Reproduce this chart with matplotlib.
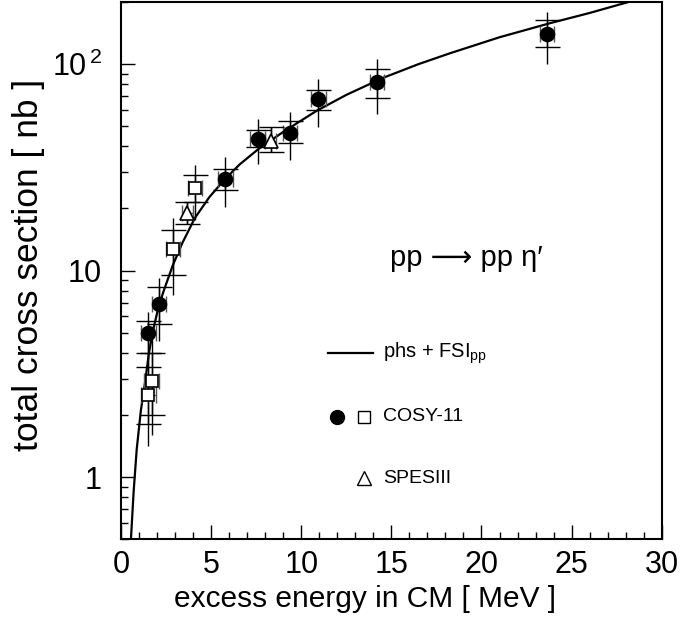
import numpy as np
import matplotlib
matplotlib.use("Agg")
import matplotlib.pyplot as plt
from matplotlib.ticker import FixedLocator, LogLocator, NullFormatter, MultipleLocator

plt.rcParams['font.family'] = ['Liberation Sans', 'DejaVu Sans']
plt.rcParams['mathtext.fontset'] = 'custom'
plt.rcParams['mathtext.rm'] = 'Liberation Sans'
plt.rcParams['mathtext.it'] = 'Liberation Sans:italic'
plt.rcParams['mathtext.default'] = 'regular'

# COSY-11, filled circles
cosy_c_q = [1.52, 2.11, 5.79, 7.58, 9.38, 10.95, 14.19, 23.62]
cosy_c_sig = [5.0, 6.9, 27.9, 43.6, 46.5, 67.5, 82.1, 140]
cosy_c_stat_lo = [3.99, 5.53, 24.5, 39.7, 41.3, 59.7, 68.8, 121]
cosy_c_stat_hi = [5.71, 8.3, 31.2, 47.8, 53.1, 75.2, 95, 163]
cosy_c_tot_lo = [3.39, 4.54, 20.4, 33, 34.3, 49.6, 57.6, 100]
cosy_c_tot_hi = [6.34, 9.2, 35.5, 54.5, 58.6, 85, 106, 178]

# COSY-11, open squares
cosy_s_q = [1.52, 1.70, 2.87, 4.11]
cosy_s_sig = [2.51, 2.91, 12.7, 25.2]
cosy_s_stat_lo = [1.8, 2.0, 9.53, 21.5]
cosy_s_stat_hi = [3.4, 4.0, 15.8, 29]
cosy_s_tot_lo = [1.41, 1.6, 7.63, 17.6]
cosy_s_tot_hi = [4.0, 5.0, 17.9, 32.4]

cosy_qerr = 0.4

# SPESIII, open triangles
spes_q = [3.68, 8.31]
spes_sig = [19.1, 42.5]
spes_lo = [16.9, 37.6]
spes_hi = [21.5, 49.6]
spes_qerr = 0.3

# phase space + pp FSI curve
curve_q = [0.55, 0.7, 0.87, 1.1, 1.33, 1.55, 1.79, 2.05, 2.35, 2.87, 3.4, 4.1,
           4.9, 5.79, 6.6, 7.59, 9.0, 10.86, 12.5, 14.56, 16.5, 18.26, 21.0,
           23.81, 26.0, 28.15, 29.0]
curve_sig = [0.5, 0.85, 1.36, 2.1, 2.86, 4.0, 5.2, 6.5, 7.9, 10.6, 13.6, 18.0,
             22.7, 27.9, 32.8, 38.6, 47, 59.5, 71, 86, 100, 113, 135,
             158, 177, 200, 208]


def draw_points(ax, q, sig, slo, shi, tlo, thi, qerr, marker, ms, face):
    q = np.array(q)
    sig = np.array(sig)
    tot = [sig - np.array(tlo), np.array(thi) - sig]
    stat = [sig - np.array(slo), np.array(shi) - sig]
    # total error: plain vertical line
    ax.errorbar(q, sig, yerr=tot, fmt='none', ecolor='black', elinewidth=1.0,
                capsize=0, zorder=3)
    # statistical error: cross bars
    ax.errorbar(q, sig, yerr=stat, fmt='none', ecolor='black', elinewidth=1.0,
                capsize=9, capthick=1.0, zorder=3)
    # energy error
    ax.errorbar(q, sig, xerr=qerr, fmt='none', ecolor='#555555', elinewidth=1.0,
                capsize=6, capthick=1.0, zorder=3)
    ax.plot(q, sig, linestyle='none', marker=marker, ms=ms, mfc=face,
            mec='black', mew=1.2, zorder=4)


fig = plt.figure(figsize=(6.81, 6.29), dpi=100)
ax = fig.add_axes([0.1777, 0.1426, 0.9717 - 0.1777, 0.9968 - 0.1426])

ax.plot(curve_q, curve_sig, color='black', lw=1.6, zorder=2)

draw_points(ax, cosy_c_q, cosy_c_sig, cosy_c_stat_lo, cosy_c_stat_hi,
            cosy_c_tot_lo, cosy_c_tot_hi, cosy_qerr, 'o', 10, 'black')
draw_points(ax, cosy_s_q, cosy_s_sig, cosy_s_stat_lo, cosy_s_stat_hi,
            cosy_s_tot_lo, cosy_s_tot_hi, cosy_qerr, 's', 8.5, 'white')
draw_points(ax, spes_q, spes_sig, spes_lo, spes_hi, spes_lo, spes_hi,
            spes_qerr, '^', 10, 'white')

ax.set_yscale('log')
ax.set_xlim(0, 30)
ax.set_ylim(0.5, 200)

ax.xaxis.set_major_locator(MultipleLocator(5))
ax.xaxis.set_minor_locator(MultipleLocator(1))
ax.yaxis.set_major_locator(FixedLocator([1, 10, 100]))
ax.yaxis.set_minor_locator(LogLocator(base=10, subs=np.arange(2, 10)))
ax.yaxis.set_minor_formatter(NullFormatter())
ax.set_yticklabels(['1', '10', r'10$^{\,2}$'])

ax.tick_params(axis='both', which='both', direction='in', top=False, right=False,
               labelsize=22)
ax.tick_params(axis='both', which='major', length=10, width=1.0)
ax.tick_params(axis='both', which='minor', length=5, width=1.0)
ax.tick_params(axis='x', which='major', pad=8)
ax.tick_params(axis='y', which='major', pad=14)

for sp in ax.spines.values():
    sp.set_linewidth(1.5)

ax.set_xlabel('excess energy in CM [ MeV ]', fontsize=21.5, labelpad=3)
ax.xaxis.label.set_x(0.452)
ax.set_ylabel('total cross section [ nb ]', fontsize=25.5, labelpad=5)
ax.yaxis.label.set_y(0.51)

# reaction label
ax.text(0.4975, 0.5235, 'pp \u27f6 pp \u03b7\u2032', transform=ax.transAxes,
        fontsize=21, ha='left', va='center')

# legend drawn by hand
ax.plot([0.3834, 0.4666], [0.3462, 0.3462], color='black', lw=1.6,
        transform=ax.transAxes)
ax.text(0.484, 0.3462, 'phs + FSI$_{pp}$', transform=ax.transAxes,
        fontsize=14.5, ha='left', va='center')
ax.plot([0.399], [0.2282], marker='o', ms=10, mfc='black', mec='black',
        transform=ax.transAxes, linestyle='none')
ax.plot([0.45], [0.2282], marker='s', ms=8, mfc='white', mec='black', mew=1.0,
        transform=ax.transAxes, linestyle='none')
ax.text(0.484, 0.2282, 'COSY-11', transform=ax.transAxes,
        fontsize=14, ha='left', va='center')
ax.plot([0.45], [0.1135], marker='^', ms=10, mfc='white', mec='black', mew=1.0,
        transform=ax.transAxes, linestyle='none')
ax.text(0.484, 0.1135, 'SPESIII', transform=ax.transAxes,
        fontsize=14, ha='left', va='center')

fig.savefig('out.png', dpi=100)
